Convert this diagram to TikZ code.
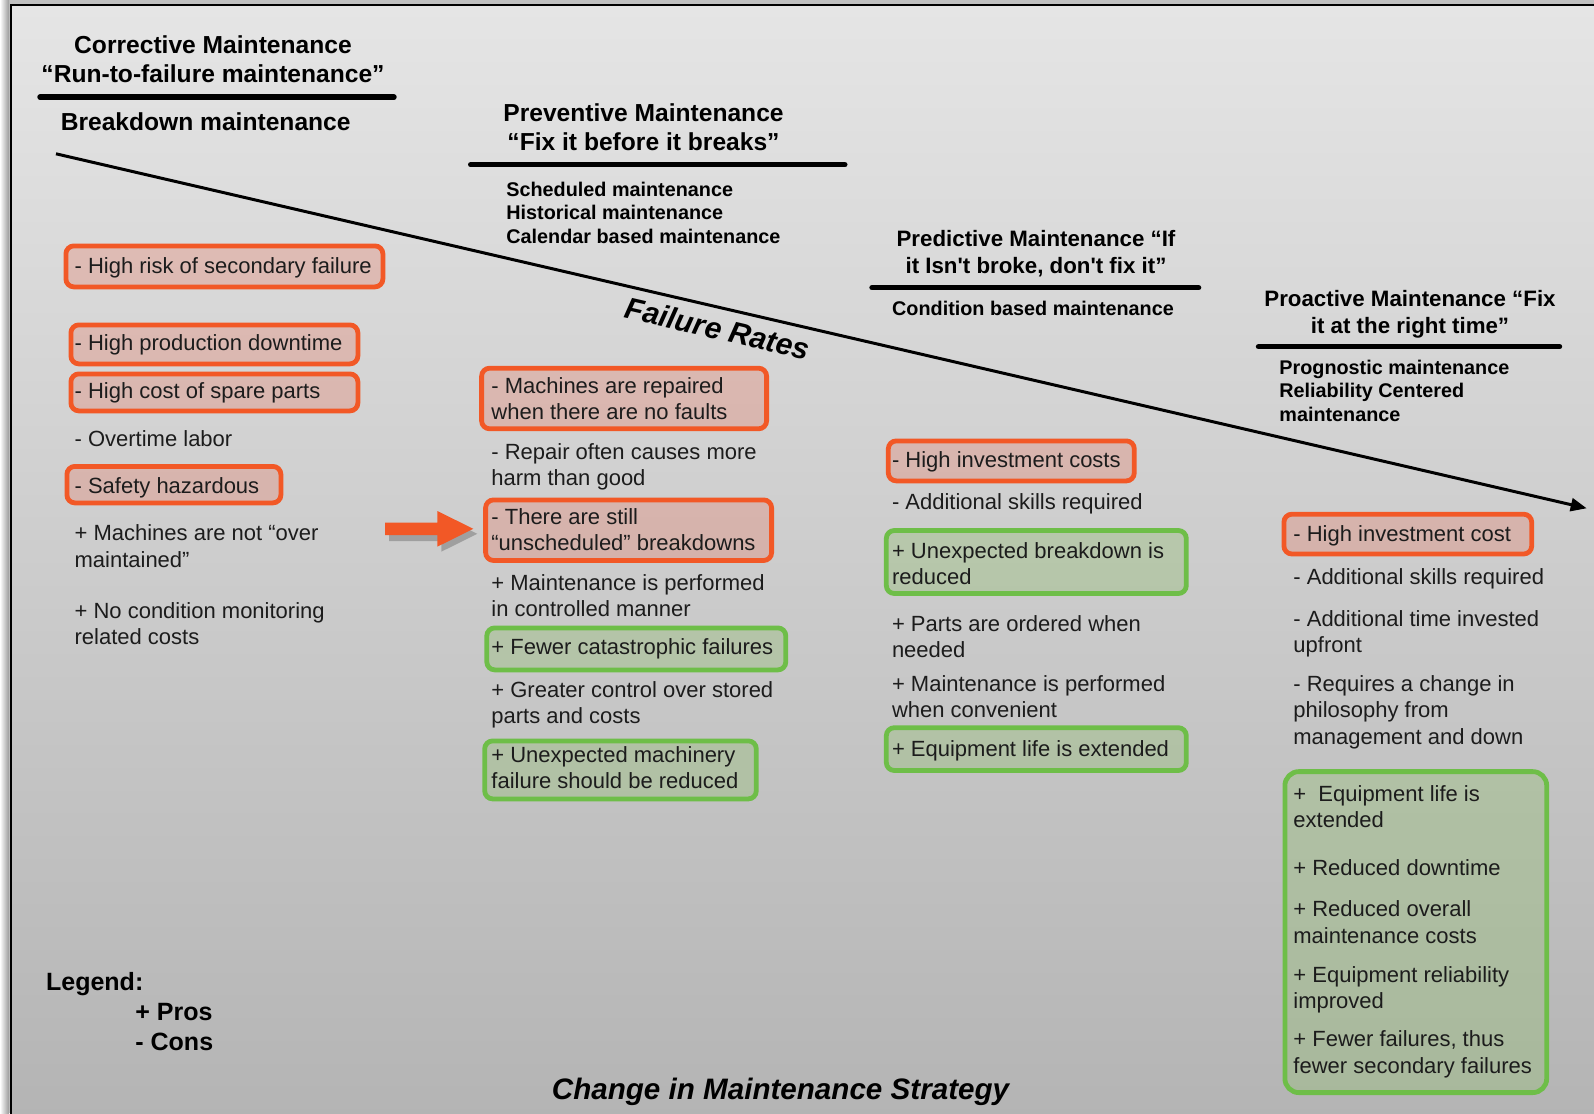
\documentclass[tikz,border=0pt]{standalone}
\usepackage{fontspec}
\setmainfont{Liberation Sans}
\newfontfamily\rawsans[Ligatures=TeXOff]{Liberation Sans}
\usetikzlibrary{arrows.meta}
\definecolor{redb}{RGB}{242,88,38}
\definecolor{redf}{RGB}{230,130,110}
\definecolor{greenb}{RGB}{110,190,72}
\definecolor{greenf}{RGB}{150,190,120}
\definecolor{txt}{RGB}{28,28,28}
\definecolor{bgtop}{RGB}{229,229,229}
\definecolor{bgbot}{RGB}{180,180,180}
\definecolor{outer}{RGB}{192,192,192}
\tikzset{
  box/.style={rounded corners=4pt, line width=2.4pt, inner sep=0pt, anchor=north west},
  redbox/.style={box, draw=redb, fill=redf, fill opacity=0.35},
  greenbox/.style={box, draw=greenb, fill=greenf, fill opacity=0.4},
  item/.style={anchor=base west, inner sep=0pt, align=left, text=txt, font=\fontsize{11}{13.2}\selectfont},
  head/.style={anchor=base, inner sep=0pt, align=center, font=\bfseries\fontsize{12.3}{14.7}\selectfont},
  smallhead/.style={head, font=\rawsans\bfseries\fontsize{11.15}{13.65}\selectfont},
  sub/.style={anchor=base west, inner sep=0pt, align=left, font=\bfseries\fontsize{9.9}{11.7}\selectfont},
  legend/.style={anchor=base west, inner sep=0pt, font=\bfseries\fontsize{12.5}{15}\selectfont},
  uline/.style={line width=2.7pt, line cap=round},
}
\begin{document}
\begin{tikzpicture}[x=0.5pt,y=-0.5pt]
\useasboundingbox (0,0) rectangle (1594,1113);
\clip (0,0) rectangle (1594,1113);
% outer area and frame
\fill[outer] (0,0) rectangle (1594,1113);
\shade[left color=white, right color=outer!80!black] (0,0) rectangle (9,1113);
\shade[top color=bgtop, bottom color=bgbot] (11,5) rectangle (1600,1120);
\draw[line width=1.3pt] (11,1120) -- (11,5) -- (1600,5);

% headers (anchor base = baseline of last line)
\node[head] (h1) at (213,82.7) {Corrective Maintenance\\“Run-to-failure maintenance”};
\coordinate (u1a) at (40,97.2); \coordinate (u1b) at (394,97.2);
\draw[uline] (u1a) -- (u1b);
\node[head] (h1b) at (205.7,130) {Breakdown maintenance};

\node[head] (h2) at (643.5,150.9) {Preventive Maintenance\\“Fix it before it breaks”};
\coordinate (u2a) at (470.7,164.7); \coordinate (u2b) at (844.8,164.7);
\draw[uline] (u2a) -- (u2b);
\node[sub] (s1) at (506,243.3) {Scheduled maintenance\\Historical maintenance\\Calendar based maintenance};

\node[smallhead] (h3) at (1036,273.3) {Predictive Maintenance “If\\it Isn't broke, don't fix it”};
\coordinate (u3a) at (872,287.7); \coordinate (u3b) at (1198.6,287.7);
\draw[uline] (u3a) -- (u3b);
\node[sub, anchor=base] (s2) at (1033,315.5) {Condition based maintenance};

\node[smallhead] (h4) at (1410,333.3) {Proactive Maintenance “Fix\\it at the right time”};
\coordinate (u4a) at (1258.5,346.7); \coordinate (u4b) at (1559.5,346.7);
\draw[uline] (u4a) -- (u4b);
\node[sub] (s3) at (1279,421.3) {Prognostic maintenance\\Reliability Centered\\maintenance};

% main trend line
\coordinate (ls) at (56,153.8);
\coordinate (le) at (1586.7,508.3);
\draw[line width=1.5pt, -{Triangle[length=8pt,width=6.5pt]}] (ls) -- (le);
\node[inner sep=0pt, rotate=-13, font=\bfseries\itshape\fontsize{15}{18}\selectfont] (fr) at (717.7,328.4) {Failure Rates};

% boxes
\node[redbox, minimum width=158.5pt, minimum height=20.5pt] (r1) at (63.5,243.5) {};
\node[redbox, minimum width=143.5pt, minimum height=19.5pt] (r2) at (68.5,322.5) {};
\node[redbox, minimum width=143.5pt, minimum height=18.5pt] (r3) at (68.5,371.5) {};
\node[redbox, minimum width=107pt, minimum height=18.25pt] (r4) at (64.5,464) {};
\node[redbox, minimum width=142.5pt, minimum height=30.3pt] (r5) at (479.2,365.8) {};
\node[redbox, minimum width=143pt, minimum height=30.3pt] (r6) at (483.2,497.5) {};
\node[greenbox, minimum width=149.5pt, minimum height=21pt] (g1) at (484.4,625.5) {};
\node[greenbox, minimum width=135.8pt, minimum height=29pt] (g2) at (482.3,738.5) {};
\node[redbox, minimum width=123pt, minimum height=20pt] (r7) at (885.9,438.5) {};
\node[greenbox, minimum width=150pt, minimum height=31.5pt] (g3) at (883.9,528.1) {};
\node[greenbox, minimum width=150pt, minimum height=21.4pt] (g4) at (883.9,725.3) {};
\node[redbox, minimum width=123.9pt, minimum height=19.9pt] (r8) at (1281.5,511.8) {};
\node[greenbox, rounded corners=7pt, minimum width=130.9pt, minimum height=160.5pt] (g5) at (1282.5,769.2) {};

% orange arrow with shadow
\fill[black, opacity=0.22] (389,528.7) -- (441.3,528.7) -- (441.3,516) -- (477.3,533.8) -- (441.3,551.7) -- (441.3,541) -- (389,541) -- cycle;
\fill[redb] (385,522.7) -- (437.3,522.7) -- (437.3,511) -- (473.3,528.8) -- (437.3,546.7) -- (437.3,535) -- (385,535) -- cycle;

% column 1 texts (anchor base = baseline of last line)
\node[item] (c1) at (74.2,273.3) {- High risk of secondary failure};
\node[item] (c2) at (74.2,350.6) {- High production downtime};
\node[item] (c3) at (74.2,398.4) {- High cost of spare parts};
\node[item] (c4) at (74.2,446.2) {- Overtime labor};
\node[item] (c5) at (74.2,493.9) {- Safety hazardous};
\node[item] (c6) at (74.2,567.1) {+ Machines are not “over\\maintained”};
\node[item] (c7) at (74.2,644.4) {+ No condition monitoring\\related costs};

% column 2 texts
\node[item] (p1) at (491,419.7) {- Machines are repaired\\when there are no faults};
\node[item] (p2) at (491,485.8) {- Repair often causes more\\harm than good};
\node[item] (p3) at (491,550.8) {- There are still\\“unscheduled” breakdowns};
\node[item] (p4) at (491,616.9) {+ Maintenance is performed\\in controlled manner};
\node[item] (p5) at (491,654.6) {+ Fewer catastrophic failures};
\node[item] (p6) at (491,723.7) {+ Greater control over stored\\parts and costs};
\node[item] (p7) at (491,788.7) {+ Unexpected machinery\\failure should be reduced};

% column 3 texts
\node[item] (d1) at (891.6,467.5) {- High investment costs};
\node[item] (d2) at (891.6,509.2) {- Additional skills required};
\node[item] (d3) at (891.6,584.4) {+ Unexpected breakdown is\\reduced};
\node[item] (d4) at (891.6,657.6) {+ Parts are ordered when\\needed};
\node[item] (d5) at (891.6,717.6) {+ Maintenance is performed\\when convenient};
\node[item] (d6) at (891.6,756.2) {+ Equipment life is extended};

% column 4 texts
\node[item] (a1) at (1293,541) {- High investment cost};
\node[item] (a2) at (1293,584) {- Additional skills required};
\node[item] (a3) at (1293,652.5) {- Additional time invested\\upfront};
\node[item] (a4) at (1293,744) {- Requires a change in\\philosophy from\\management and down};
\node[item] (a5) at (1293,827.4) {+~ Equipment life is\\extended};
\node[item] (a6) at (1293,875) {+ Reduced downtime};
\node[item] (a7) at (1293,943.1) {+ Reduced overall\\maintenance costs};
\node[item] (a8) at (1293,1008.7) {+ Equipment reliability\\improved};
\node[item] (a9) at (1293,1073.1) {+ Fewer failures, thus\\fewer secondary failures};

% legend
\node[legend] (lg) at (45.7,990.7) {Legend:};
\node[legend] (lp) at (135,1020) {+ Pros};
\node[legend] (lc) at (135,1050.7) {- Cons};

\node[anchor=base, inner sep=0pt, font=\bfseries\itshape\fontsize{14.8}{18}\selectfont] (title) at (780.5,1099.3) {Change in Maintenance Strategy};
\end{tikzpicture}
\end{document}
